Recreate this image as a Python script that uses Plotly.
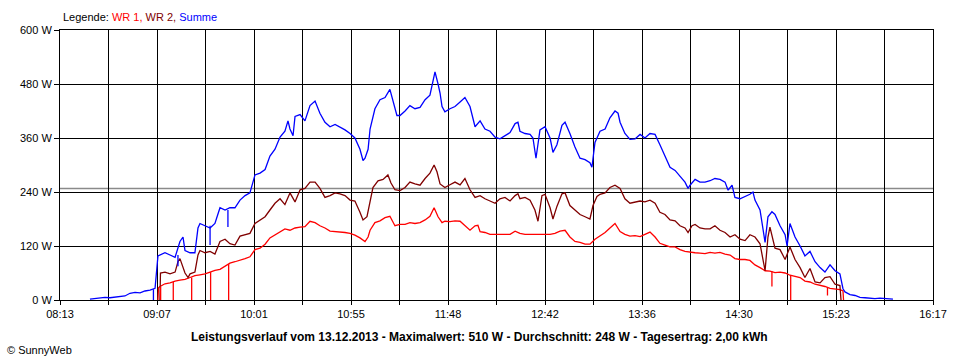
import plotly.graph_objects as go

# ---------------- data (time in minutes since midnight, power in W) ----------------
x_tick_labels = ["08:13", "09:07", "10:01", "10:55", "11:48",
                 "12:42", "13:36", "14:30", "15:23", "16:17"]
y_tick_values = [0, 120, 240, 360, 480, 600]
y_tick_labels = ["0 W", "120 W", "240 W", "360 W", "480 W", "600 W"]
avg_w = 248

summe_t = [509.6, 512.4, 515.2, 517.9, 520.7, 523.5, 526.3, 529.0, 531.8, 534.6,
           537.4, 540.1, 542.9, 545.7, 547.3, 548.4, 551.2, 554.0, 556.8, 559.5,
           561.2, 562.3, 565.1, 567.8, 569.5, 570.6, 573.4, 576.2, 578.9, 581.7,
           584.5, 587.2, 590.0, 592.8, 595.6, 598.3, 601.1, 603.9, 606.7, 609.4,
           612.2, 615.0, 617.7, 619.4, 620.5, 622.2, 623.3, 626.1, 628.8, 631.6,
           634.4, 637.1, 639.9, 642.7, 645.5, 648.2, 651.0, 653.8, 656.5, 659.3,
           661.0, 662.1, 663.8, 664.9, 667.6, 670.4, 673.2, 675.9, 677.6, 679.8,
           681.5, 684.3, 687.0, 689.8, 692.6, 695.4, 698.1, 699.8, 700.9, 702.6,
           703.7, 704.8, 706.4, 709.2, 712.0, 714.8, 717.5, 720.3, 723.1, 725.9,
           728.6, 731.4, 734.2, 736.9, 739.7, 742.5, 745.3, 746.9, 748.0, 750.8,
           753.6, 755.2, 756.9, 759.1, 761.9, 764.7, 766.3, 768.5, 771.3, 773.0,
           775.7, 778.5, 781.3, 784.1, 786.8, 787.9, 789.6, 792.4, 795.2, 797.9,
           800.7, 802.4, 803.5, 806.2, 809.0, 811.8, 814.6, 817.3, 820.1, 822.9,
           825.6, 828.4, 831.2, 834.0, 836.7, 839.5, 841.2, 842.3, 845.1, 847.8,
           850.6, 853.4, 856.1, 858.9, 861.7, 863.4, 865.6, 867.2, 870.0, 872.8,
           875.5, 877.2, 878.3, 881.1, 882.7, 883.9, 885.5, 887.7, 889.4, 892.2,
           895.0, 896.1, 897.7, 900.5, 903.3, 906.0, 908.8, 911.6, 914.4, 917.1,
           919.9, 922.7, 925.4, 927.1, 928.2, 931.0, 933.8, 936.5, 939.3, 942.1,
           944.8, 947.6, 950.4, 953.2, 954.8]
summe_w = [2, 3, 4, 6, 5, 6, 8, 9, 15, 17,
           16, 20, 22, 26, 98, 100, 105, 100, 95, 130,
           140, 110, 105, 105, 160, 170, 165, 160, 170, 205,
           200, 205, 205, 222, 232, 238, 278, 282, 290, 320,
           335, 362, 375, 398, 380, 365, 408, 412, 398, 432,
           442, 415, 395, 385, 390, 385, 378, 370, 360, 335,
           310, 315, 335, 380, 425, 445, 450, 468, 440, 410,
           410, 420, 432, 425, 428, 445, 455, 485, 507, 480,
           460, 430, 418, 425, 430, 440, 450, 430, 385, 398,
           380, 375, 362, 358, 365, 372, 392, 395, 375, 370,
           368, 360, 315, 378, 385, 360, 328, 345, 388, 395,
           370, 340, 315, 312, 305, 295, 350, 375, 380, 405,
           420, 415, 395, 370, 357, 358, 368, 360, 370, 368,
           345, 320, 295, 288, 275, 262, 248, 255, 268, 262,
           262, 265, 270, 268, 262, 244, 255, 228, 225, 230,
           235, 240, 222, 200, 160, 128, 185, 196, 190, 165,
           145, 120, 170, 140, 120, 98, 108, 85, 72, 62,
           78, 65, 58, 25, 18, 12, 10, 6, 5, 4,
           3, 4, 3, 2, 2]

wr2_t = [548.4, 548.7, 551.2, 554.0, 556.8, 558.4, 559.5, 561.2, 562.3, 564.0,
         565.1, 567.8, 569.5, 570.6, 573.4, 576.2, 578.9, 581.7, 584.5, 587.2,
         590.0, 592.8, 595.6, 598.3, 601.1, 603.9, 606.7, 609.4, 612.2, 615.0,
         617.7, 620.5, 623.3, 626.1, 628.8, 631.6, 634.4, 637.1, 639.9, 642.7,
         645.5, 648.2, 651.0, 653.8, 656.5, 659.3, 661.0, 663.2, 664.9, 666.5,
         669.3, 672.1, 674.8, 676.5, 678.7, 681.5, 684.3, 687.0, 689.8, 692.6,
         695.4, 698.1, 700.4, 702.0, 703.7, 706.4, 709.2, 712.0, 714.8, 717.5,
         720.3, 723.1, 725.9, 728.6, 731.4, 734.2, 736.9, 739.7, 742.5, 745.3,
         746.9, 748.0, 750.8, 753.6, 756.3, 758.0, 760.2, 761.9, 764.7, 766.3,
         768.5, 771.3, 773.0, 775.7, 778.5, 781.3, 784.1, 786.8, 788.5, 790.7,
         792.4, 795.2, 797.9, 800.7, 803.5, 806.2, 809.0, 811.8, 814.6, 817.3,
         820.1, 822.9, 825.6, 828.4, 831.2, 834.0, 836.7, 839.5, 841.2, 843.4,
         845.1, 847.8, 850.6, 853.4, 856.1, 858.9, 861.7, 864.5, 867.2, 870.0,
         872.8, 875.5, 878.3, 881.1, 882.7, 883.9, 885.5, 886.6, 889.4, 892.2,
         895.0, 897.7, 900.5, 903.3, 906.0, 908.8, 911.6, 914.4, 917.1, 919.9,
         922.7, 925.4, 926.0]
wr2_w = [0, 60, 62, 58, 62, 85, 92, 75, 60, 50,
         58, 62, 100, 110, 105, 108, 102, 130, 135, 125,
         122, 142, 145, 148, 170, 178, 185, 200, 215, 225,
         212, 238, 218, 245, 248, 262, 262, 248, 228, 232,
         238, 236, 232, 222, 220, 195, 178, 185, 215, 250,
         265, 268, 278, 260, 245, 243, 250, 262, 258, 255,
         270, 282, 300, 285, 258, 250, 256, 262, 256, 270,
         245, 228, 232, 225, 220, 215, 225, 228, 220, 232,
         236, 225, 228, 222, 200, 175, 232, 235, 205, 180,
         208, 236, 238, 210, 200, 190, 185, 180, 210, 230,
         235, 238, 250, 255, 248, 225, 215, 218, 220, 218,
         222, 215, 195, 190, 178, 176, 165, 160, 150, 165,
         168, 160, 158, 158, 165, 155, 150, 140, 145, 135,
         132, 145, 140, 125, 85, 65, 140, 162, 115, 112,
         90, 118, 90, 72, 50, 70, 40, 38, 50, 52,
         35, 32, 0]

wr1_t = [547.3, 547.6, 548.4, 551.2, 554.0, 556.8, 559.5, 562.3, 565.1, 567.8,
         570.6, 573.4, 576.2, 578.9, 581.7, 584.5, 587.2, 590.0, 592.8, 595.6,
         598.3, 601.1, 603.9, 606.7, 609.4, 612.2, 615.0, 617.7, 620.5, 623.3,
         626.1, 628.8, 631.6, 634.4, 637.1, 639.9, 642.7, 645.5, 648.2, 651.0,
         653.8, 656.5, 659.3, 662.1, 663.8, 664.9, 667.6, 670.4, 673.2, 675.9,
         678.7, 681.5, 684.3, 687.0, 689.8, 692.6, 695.4, 698.1, 700.4, 702.6,
         704.8, 706.4, 709.2, 712.0, 714.8, 717.5, 720.3, 723.1, 724.7, 725.9,
         728.6, 731.4, 734.2, 736.9, 739.7, 742.5, 745.3, 748.0, 750.8, 753.6,
         756.3, 759.1, 761.9, 764.7, 767.4, 770.2, 773.0, 775.7, 778.5, 781.3,
         784.1, 786.8, 789.6, 792.4, 795.2, 797.9, 800.7, 803.5, 806.2, 809.0,
         811.8, 814.6, 817.3, 820.1, 822.9, 825.6, 828.4, 831.2, 834.0, 836.7,
         839.5, 842.3, 845.1, 847.8, 850.6, 853.4, 856.1, 858.9, 861.7, 864.5,
         867.2, 870.0, 872.8, 875.5, 878.3, 881.1, 883.9, 886.6, 889.4, 892.2,
         895.0, 897.7, 900.5, 903.3, 906.0, 908.8, 911.6, 914.4, 917.1, 919.9,
         922.7, 925.4, 927.1, 927.4]
wr1_w = [0, 27, 30, 36, 38, 42, 44, 46, 50, 54,
         56, 58, 62, 66, 68, 75, 82, 85, 88, 92,
         96, 112, 115, 124, 138, 145, 152, 158, 155, 160,
         162, 163, 175, 172, 165, 160, 153, 152, 152, 150,
         148, 144, 138, 130, 140, 155, 172, 176, 183, 186,
         165, 168, 168, 172, 170, 172, 178, 186, 205, 185,
         172, 175, 174, 176, 175, 165, 155, 165, 166, 152,
         150, 146, 146, 146, 145, 146, 153, 148, 146, 146,
         146, 147, 147, 146, 148, 153, 155, 140, 130, 128,
         124, 124, 135, 143, 150, 160, 170, 152, 146, 142,
         143, 141, 146, 151, 140, 126, 122, 118, 118, 112,
         108, 106, 105, 104, 103, 106, 104, 106, 102, 100,
         92, 90, 90, 88, 78, 72, 65, 64, 61, 62,
         60, 55, 52, 50, 42, 40, 35, 33, 30, 26,
         25, 23, 20, 0]

# short dropouts (single-sample dips)
wr1_drop_t = [548.8, 555.8, 566.0, 576.5, 586.5, 887.7, 898.1, 918.5]
wr1_drop_top = [30, 40, 50, 62, 80, 64, 55, 28]
wr1_drop_low = [0, 0, 0, 0, 0, 30, 0, 10]
summe_drop_t = [544.8, 558.4, 576.2, 586.1]
summe_drop_top = [24, 100, 165, 200]
summe_drop_low = [0, 75, 122, 162]

# ---------------- figure ----------------
FONT = "Liberation Sans, Arial, sans-serif"
C_WR1, C_WR2, C_SUM = "#FF0000", "#800000", "#0000FF"

x0 = 493.0   # 08:13
x1 = 977.0   # 16:17
n_int = 18
tickvals = [x0 + i * (x1 - x0) / n_int for i in range(n_int + 1)]
ticktext = [x_tick_labels[i // 2] if i % 2 == 0 else "" for i in range(n_int + 1)]


def drops(ts, tops, lows):
    xs, ys = [], []
    for t, a, b in zip(ts, tops, lows):
        xs += [t, t, None]
        ys += [a, b, None]
    return xs, ys


fig = go.Figure()
for t, w, c in [(wr1_t, wr1_w, C_WR1), (wr2_t, wr2_w, C_WR2), (summe_t, summe_w, C_SUM)]:
    fig.add_trace(go.Scatter(x=t, y=w, mode="lines", line=dict(color=c, width=1.3),
                             hoverinfo="skip"))
dx, dy = drops(wr1_drop_t, wr1_drop_top, wr1_drop_low)
fig.add_trace(go.Scatter(x=dx, y=dy, mode="lines", line=dict(color=C_WR1, width=1.3),
                         hoverinfo="skip"))
dx, dy = drops(summe_drop_t, summe_drop_top, summe_drop_low)
fig.add_trace(go.Scatter(x=dx, y=dy, mode="lines", line=dict(color=C_SUM, width=1.3),
                         hoverinfo="skip"))

fig.add_shape(type="line", xref="paper", x0=0, x1=1, yref="y", y0=avg_w, y1=avg_w,
              line=dict(color="#8a8a8a", width=1.5), layer="below")

fig.update_layout(
    width=960, height=360, autosize=False,
    margin=dict(l=60, r=27, t=30, b=60),
    paper_bgcolor="white", plot_bgcolor="white",
    showlegend=False, hovermode=False,
    font=dict(family=FONT, size=11, color="black"),
)
fig.update_xaxes(range=[x0, x1], tickmode="array", tickvals=tickvals, ticktext=ticktext,
                 showgrid=True, gridcolor="black", gridwidth=1,
                 showline=True, linecolor="black", linewidth=1, mirror=True,
                 ticks="outside", ticklen=4, tickcolor="black", zeroline=False,
                 tickfont=dict(family=FONT, size=11, color="black"))
fig.update_yaxes(range=[0, 600], tickmode="array", tickvals=y_tick_values, ticktext=y_tick_labels,
                 showgrid=True, gridcolor="black", gridwidth=1,
                 showline=True, linecolor="black", linewidth=1, mirror=True,
                 ticks="outside", ticklen=5, tickcolor="black", zeroline=False,
                 tickfont=dict(family=FONT, size=11, color="black"))

legend_html = ("Legende: <span style='color:%s'>WR 1, </span>"
               "<span style='color:%s'>WR 2, </span>"
               "<span style='color:%s'>Summe</span>") % (C_WR1, C_WR2, C_SUM)
fig.add_annotation(text=legend_html, xref="paper", yref="paper", x=0.001, y=1.048,
                   xanchor="left", yanchor="middle", showarrow=False,
                   font=dict(family=FONT, size=11, color="black"))
fig.add_annotation(text="<b>Leistungsverlauf vom 13.12.2013 - Maximalwert: 510 W - "
                        "Durchschnitt: 248 W - Tagesertrag: 2,00 kWh</b>",
                   xref="paper", yref="paper", x=0.481, y=-0.137,
                   xanchor="center", yanchor="middle", showarrow=False,
                   font=dict(family=FONT, size=12, color="black"))
fig.add_annotation(text="© SunnyWeb", xref="paper", yref="paper", x=-0.063, y=-0.185,
                   xanchor="left", yanchor="middle", showarrow=False,
                   font=dict(family=FONT, size=11, color="black"))

fig.write_html("out.html",
               config={"displayModeBar": False, "staticPlot": True},
               post_script="document.body.style.margin='0';document.body.style.overflow='hidden';")
